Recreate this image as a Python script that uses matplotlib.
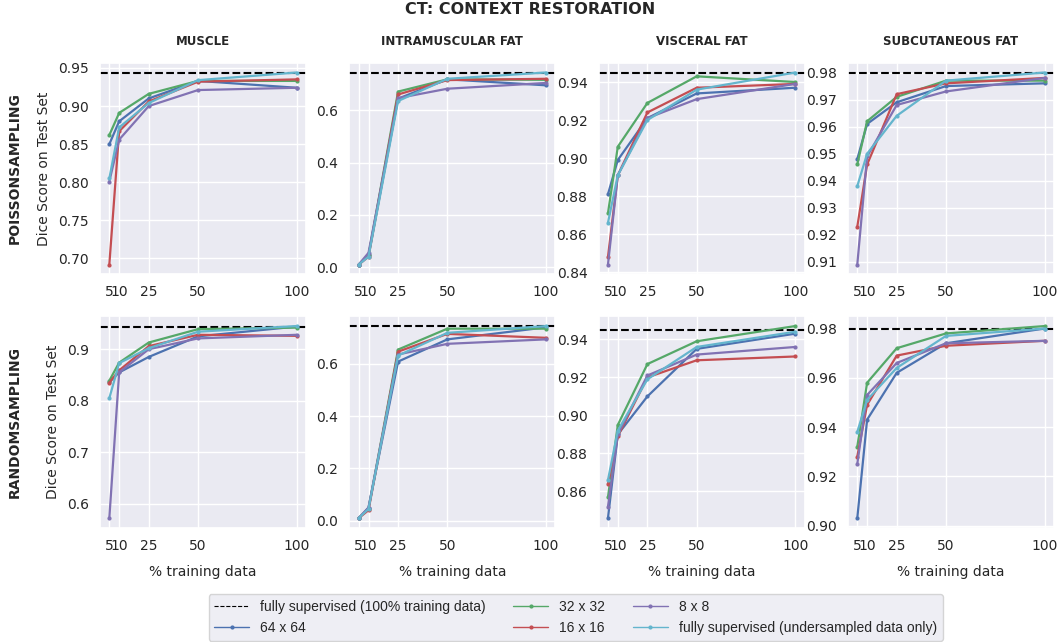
import matplotlib
matplotlib.use('Agg')
import matplotlib.pyplot as plt
import seaborn as sns

sns.set_theme(style='darkgrid')
plt.rcParams['font.family'] = ['DejaVu Sans']

# x values (% training data)
pct = [5, 10, 25, 50, 100]
organs = ['MUSCLE', 'INTRAMUSCULAR FAT', 'VISCERAL FAT', 'SUBCUTANEOUS FAT']
samplings = ['POISSONSAMPLING', 'RANDOMSAMPLING']
series_names = ['64 x 64', '32 x 32', '16 x 16', '8 x 8', 'fully supervised (undersampled data only)']
colors = ['#4C72B0', '#55A868', '#C44E52', '#8172B3', '#64B5CD']

# reference: fully supervised on 100% data, per organ
full_ref = [0.944, 0.745, 0.945, 0.980]

# Poisson sampling: [organ][series] -> values at pct
poisson = [
    [[0.850, 0.880, 0.910, 0.933, 0.924],
     [0.862, 0.891, 0.916, 0.933, 0.933],
     [0.692, 0.867, 0.906, 0.932, 0.935],
     [0.801, 0.856, 0.900, 0.921, 0.924],
     [0.805, 0.872, 0.904, 0.934, 0.944]],
    [[0.010, 0.045, 0.645, 0.719, 0.696],
     [0.010, 0.045, 0.672, 0.719, 0.717],
     [0.010, 0.040, 0.661, 0.716, 0.721],
     [0.010, 0.055, 0.647, 0.683, 0.705],
     [0.010, 0.040, 0.636, 0.721, 0.745]],
    [[0.881, 0.899, 0.921, 0.934, 0.937],
     [0.871, 0.906, 0.929, 0.943, 0.940],
     [0.848, 0.891, 0.924, 0.937, 0.939],
     [0.844, 0.891, 0.921, 0.931, 0.939],
     [0.866, 0.891, 0.920, 0.936, 0.945]],
    [[0.948, 0.961, 0.969, 0.975, 0.976],
     [0.946, 0.962, 0.971, 0.977, 0.977],
     [0.923, 0.946, 0.972, 0.976, 0.978],
     [0.909, 0.949, 0.968, 0.973, 0.978],
     [0.938, 0.950, 0.964, 0.977, 0.980]],
]

# Random sampling
random_s = [
    [[0.836, 0.855, 0.885, 0.925, 0.944],
     [0.839, 0.874, 0.913, 0.939, 0.942],
     [0.835, 0.859, 0.906, 0.928, 0.926],
     [0.572, 0.855, 0.900, 0.921, 0.928],
     [0.805, 0.873, 0.902, 0.934, 0.945]],
    [[0.010, 0.050, 0.609, 0.694, 0.740],
     [0.010, 0.045, 0.655, 0.735, 0.735],
     [0.010, 0.040, 0.647, 0.715, 0.700],
     [0.010, 0.050, 0.636, 0.677, 0.694],
     [0.010, 0.045, 0.632, 0.719, 0.745]],
    [[0.846, 0.890, 0.910, 0.935, 0.943],
     [0.857, 0.895, 0.927, 0.939, 0.947],
     [0.864, 0.889, 0.920, 0.929, 0.931],
     [0.852, 0.890, 0.921, 0.932, 0.936],
     [0.866, 0.892, 0.919, 0.936, 0.944]],
    [[0.903, 0.943, 0.962, 0.974, 0.980],
     [0.932, 0.958, 0.972, 0.978, 0.981],
     [0.928, 0.949, 0.969, 0.973, 0.975],
     [0.925, 0.953, 0.966, 0.974, 0.975],
     [0.938, 0.951, 0.964, 0.977, 0.980]],
]

yticks = [
    [[0.70, 0.75, 0.80, 0.85, 0.90, 0.95], [0.0, 0.2, 0.4, 0.6],
     [0.84, 0.86, 0.88, 0.90, 0.92, 0.94], [0.91, 0.92, 0.93, 0.94, 0.95, 0.96, 0.97, 0.98]],
    [[0.6, 0.7, 0.8, 0.9], [0.0, 0.2, 0.4, 0.6],
     [0.86, 0.88, 0.90, 0.92, 0.94], [0.90, 0.92, 0.94, 0.96, 0.98]],
]
ytick_fmt = [['%.2f', '%.1f', '%.2f', '%.2f'], ['%.1f', '%.1f', '%.2f', '%.2f']]

fig, axes = plt.subplots(2, 4, figsize=(10.6, 6.42), dpi=100)
fig.subplots_adjust(left=0.0943, right=0.9943, top=0.902, bottom=0.178,
                    wspace=0.21, hspace=0.2)

for r, data in enumerate([poisson, random_s]):
    for c in range(4):
        ax = axes[r, c]
        ax.axhline(full_ref[c], color='black', linestyle='--', linewidth=1.5,
                   label='fully supervised (100% training data)')
        for s in range(5):
            ax.plot(pct, data[c][s], color=colors[s], marker='.', markersize=4,
                    linewidth=1.6, label=series_names[s])
        ax.set_xticks(pct)
        ax.set_xticklabels([str(p) for p in pct])
        ax.set_yticks(yticks[r][c])
        ax.set_yticklabels([ytick_fmt[r][c] % v for v in yticks[r][c]])
        ax.tick_params(labelsize=10, pad=2)
        if r == 0:
            ax.set_title(organs[c], fontsize=8.5, fontweight='bold', pad=13)
        else:
            ax.set_xlabel('% training data', fontsize=10, labelpad=9)
        if c == 0:
            ax.set_ylabel('Dice Score on Test Set', fontsize=10, labelpad=5)

for r, name in enumerate(samplings):
    box = axes[r, 0].get_position()
    fig.text(0.014, (box.y0 + box.y1) / 2, name, rotation=90, fontsize=10,
             fontweight='bold', ha='center', va='center')

fig.suptitle('CT: CONTEXT RESTORATION', fontsize=11.5, fontweight='bold', y=0.997)

handles, labels = axes[0, 0].get_legend_handles_labels()
leg = fig.legend(handles, labels, loc='lower center', ncol=3,
                 bbox_to_anchor=(0.543, -0.009), frameon=True,
                 prop={'family': ['Liberation Sans Narrow', 'Liberation Sans'], 'size': 10},
                 handlelength=2.5, columnspacing=2.0, borderpad=0.4,
                 labelspacing=0.55)
for h in leg.legend_handles:
    h.set_linewidth(1.0)
leg.legend_handles[0].set_linewidth(0.8)

fig.savefig('out.png', dpi=100)
